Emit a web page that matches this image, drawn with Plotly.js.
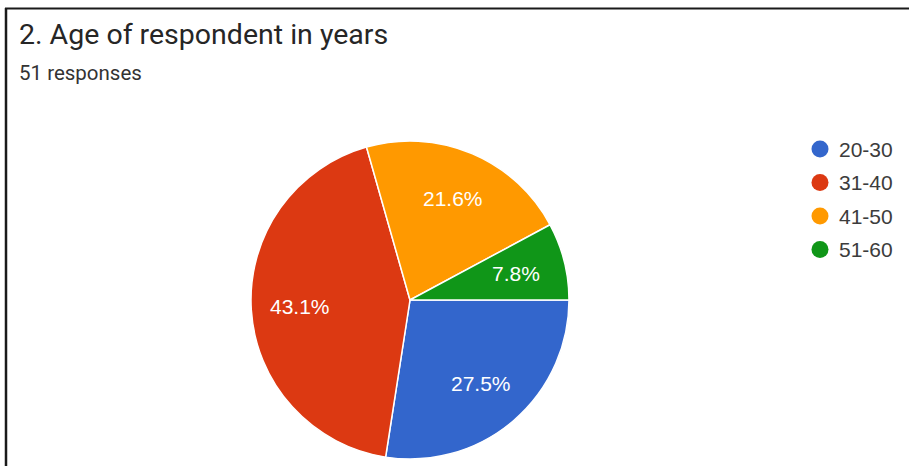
<!DOCTYPE html>
<html>
<head>
<meta charset="utf-8">
<script src="https://cdn.plot.ly/plotly-3.0.1.min.js"></script>
<style>
  html, body { margin: 0; padding: 0; background: #ffffff; }
  #chart { width: 909px; height: 466px; }
</style>
</head>
<body>
<div id="chart"></div>
<script>
const categories = ["20-30", "31-40", "41-50", "51-60"];
const responses = [14, 22, 11, 4];
const sliceColors = ["#3366cc", "#dc3912", "#ff9900", "#109618"];
const titleText = "2. Age of respondent in years";
const subtitleText = "51 responses";

const W = 909, H = 466;
const px = x => x / W;
const py = y => 1 - y / H;

const cx = 410, cy = 300, R = 159;
const labelRadius = 0.69 * R;
const chartFont = "'Liberation Sans', Arial, sans-serif";

const pie = {
  type: "pie",
  labels: categories,
  values: responses,
  sort: false,
  direction: "clockwise",
  rotation: 90,
  marker: { colors: sliceColors, line: { color: "#ffffff", width: 1.5 } },
  textinfo: "none",
  hoverinfo: "label+percent",
  showlegend: false,
  domain: { x: [px(cx - R), px(cx + R)], y: [py(cy + R), py(cy - R)] }
};

const shapes = [
  { type: "line", xref: "paper", yref: "paper", x0: px(5), x1: px(909), y0: py(8.5), y1: py(8.5), line: { color: "#1a1a1a", width: 2 } },
  { type: "line", xref: "paper", yref: "paper", x0: px(6), x1: px(6), y0: py(8), y1: py(466), line: { color: "#1a1a1a", width: 2.5 } }
];
const annotations = [
  { text: titleText, xref: "paper", yref: "paper", x: px(17), y: py(34), xanchor: "left", yanchor: "middle", showarrow: false, font: { family: "Roboto, Arial, sans-serif", size: 28.5, color: "#262626" } },
  { text: subtitleText, xref: "paper", yref: "paper", x: px(17), y: py(73), xanchor: "left", yanchor: "middle", showarrow: false, font: { family: "Roboto, Arial, sans-serif", size: 20.5, color: "#333333" } }
];

// Percentage labels placed along each slice's bisector (derived from the data)
const total = responses.reduce((a, b) => a + b, 0);
let cum = 0;
responses.forEach((v, i) => {
  const frac = v / total;
  const midDeg = (cum + frac / 2) * 360; // clockwise from 3 o'clock
  cum += frac;
  const a = midDeg * Math.PI / 180;
  const lx = cx + labelRadius * Math.cos(a);
  const ly = cy + labelRadius * Math.sin(a);
  annotations.push({ text: (frac * 100).toFixed(1) + "%", xref: "paper", yref: "paper", x: px(lx), y: py(ly), xanchor: "center", yanchor: "middle", showarrow: false, font: { family: chartFont, size: 21, color: "#ffffff" } });
});

categories.forEach((c, i) => {
  const yc = 149 + i * 33.5;
  shapes.push({ type: "circle", xref: "paper", yref: "paper", x0: px(811.5), x1: px(828.5), y0: py(yc + 8.5), y1: py(yc - 8.5), fillcolor: sliceColors[i], line: { width: 0 } });
  annotations.push({ text: c, xref: "paper", yref: "paper", x: px(837), y: py(yc), xanchor: "left", yanchor: "middle", showarrow: false, font: { family: chartFont, size: 21, color: "#3c3c3c" } });
});

const layout = {
  width: W, height: H,
  margin: { l: 0, r: 0, t: 0, b: 0 },
  paper_bgcolor: "#ffffff",
  plot_bgcolor: "#ffffff",
  showlegend: false,
  shapes: shapes,
  annotations: annotations
};

Plotly.newPlot("chart", [pie], layout, { displayModeBar: false, staticPlot: true });
</script>
</body>
</html>
